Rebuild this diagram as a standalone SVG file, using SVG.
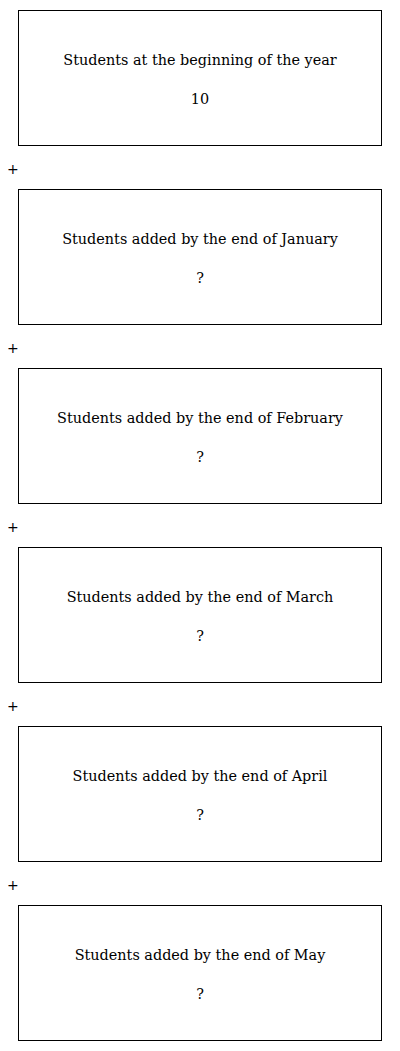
<svg xmlns="http://www.w3.org/2000/svg" width="400" height="1051" viewBox="0 0 400 1051">
<style>
.box{fill:#fff;stroke:#000;stroke-width:1}
.t{font-family:"DejaVu Serif",serif;font-size:14.4px;text-anchor:middle;fill:#000}
.p{font-family:"DejaVu Sans",sans-serif;font-size:14px;fill:#000}
</style>
<rect width="400" height="1051" fill="#fff"/>
<g id="n0"><rect class="box" x="18.5" y="10.5" width="363" height="135"/><text class="t" x="200" y="65">Students at the beginning of the year</text><text class="t" x="200" y="104">10</text></g>
<g id="n1"><rect class="box" x="18.5" y="189.5" width="363" height="135"/><text class="t" x="200" y="244">Students added by the end of January</text><text class="t" x="200" y="283">?</text></g>
<g id="n2"><rect class="box" x="18.5" y="368.5" width="363" height="135"/><text class="t" x="200" y="423">Students added by the end of February</text><text class="t" x="200" y="462">?</text></g>
<g id="n3"><rect class="box" x="18.5" y="547.5" width="363" height="135"/><text class="t" x="200" y="602">Students added by the end of March</text><text class="t" x="200" y="641">?</text></g>
<g id="n4"><rect class="box" x="18.5" y="726.5" width="363" height="135"/><text class="t" x="200" y="781">Students added by the end of April</text><text class="t" x="200" y="820">?</text></g>
<g id="n5"><rect class="box" x="18.5" y="905.5" width="363" height="135"/><text class="t" x="200" y="960">Students added by the end of May</text><text class="t" x="200" y="999">?</text></g>
<g id="connectors">
<text class="p" x="7" y="174">+</text>
<text class="p" x="7" y="353">+</text>
<text class="p" x="7" y="532">+</text>
<text class="p" x="7" y="711">+</text>
<text class="p" x="7" y="890">+</text>
</g>
</svg>
